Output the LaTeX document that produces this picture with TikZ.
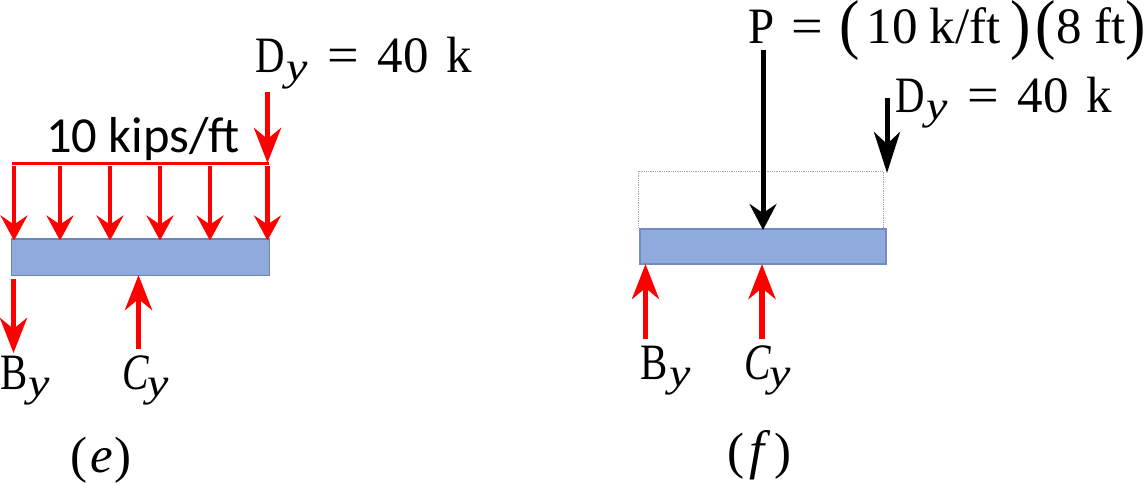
\documentclass[tikz,border=0pt]{standalone}
\usepackage{fontspec}
\usepackage{graphicx}
\setmainfont{Liberation Serif}
\newfontfamily\calib{Carlito}
\usetikzlibrary{arrows.meta}
\definecolor{beam}{HTML}{8FAADC}
\definecolor{beamedge}{HTML}{6C84B5}
% place a piece of text at an exact offset from the label's start
\newcommand{\pc}[2]{\rlap{\kern#1pt #2}}
\newcommand{\ysub}{\raisebox{-7.5pt}{\fontsize{40}{40}\selectfont\itshape\scalebox{1.2}[1]{y}}}
\newcommand{\nD}{\scalebox{.8}[1]{D}}
\newcommand{\nB}{\scalebox{.8}[1]{B}}
\newcommand{\nC}{\scalebox{.78}[1]{\itshape C}}
\newcommand{\nP}{\scalebox{.92}[1]{P}}
\newcommand{\eqsign}{\scalebox{1.1}[1]{=}}
\newcommand{\tallL}{\raisebox{-3.5pt}{\scalebox{1.2}[1.3]{(}}}
\newcommand{\tallR}{\raisebox{-3.5pt}{\scalebox{1.2}[1.3]{)}}}
\newcommand{\dyforty}{\pc{0}{\nD}\pc{31}{\ysub}\pc{72}{\eqsign}\pc{122}{40}\pc{191}{k}}
\tikzset{
  lbl/.style={inner sep=0pt,anchor=base west,font=\fontsize{51}{51}\selectfont},
  beambox/.style={fill=beam,draw=beamedge,line width=1.2pt},
  bigred/.style={draw=red,line width=5.5pt,-{Stealth[length=35pt,width=27pt,inset=11pt]}},
  smallred/.style={draw=red,line width=4.2pt,-{Stealth[length=25pt,width=27pt,inset=9pt]}},
  bigblack/.style={draw=black,line width=5pt,-{Stealth[length=26pt,width=27pt,inset=9pt]}},
  midblack/.style={draw=black,line width=5pt,-{Stealth[length=41pt,width=26pt,inset=12pt]}},
}
\begin{document}
\begin{tikzpicture}[x=1pt,y=-1pt]
\useasboundingbox (0,0) rectangle (1145,483);
% panel e
\node[beambox,inner sep=0pt,minimum width=258pt,minimum height=36.5pt] (beamE) at (140.5,257.3) {};
\coordinate (lL) at (12,163);
\coordinate (lR) at (269,163);
\foreach \i/\x in {a/14,b/60,c/110,d/160,e/210,f/267.5}{
  \coordinate (s\i) at (\x,166);
  \coordinate (t\i) at (\x,240.5);
  \draw[smallred] (s\i) -- (t\i);
}
\coordinate (dyS) at (267.5,92);
\coordinate (dyT) at (267.5,163);
\draw[bigred] (dyS) -- (dyT);
\draw[red,line width=3pt] (lL) -- (lR);
\coordinate (byS) at (13.5,279);
\coordinate (byT) at (13.5,353);
\draw[bigred] (byS) -- (byT);
\coordinate (cyS) at (138.5,349);
\coordinate (cyT) at (138.5,275);
\draw[bigred] (cyS) -- (cyT);
\node[lbl] (dyE) at (255,72.5) {\dyforty};
\node[inner sep=0pt,anchor=base west,font=\calib\fontsize{50.5}{50}\selectfont] (load) at (46,152) {10 kips/ft};
\node[lbl] (bE) at (0,389) {\pc{0}{\nB}\pc{28}{\ysub}};
\node[lbl] (cE) at (122,389) {\pc{0}{\nC}\pc{25}{\ysub}};
\node[lbl] (capE) at (70,472.5) {\pc{0}{(}\pc{20}{\itshape e}\pc{44}{)}};
% panel f
\draw[gray!70,line width=0.8pt,densely dotted] (638.5,171) rectangle (883,228.5);
\node[fill=beam,draw=beamedge!80!beam,line width=2pt,inner sep=0pt,minimum width=246pt,minimum height=35pt] (beamF) at (763,246) {};
\coordinate (pS) at (763,50);
\coordinate (pT) at (763,230);
\draw[bigblack] (pS) -- (pT);
\coordinate (dfS) at (887,98);
\coordinate (dfT) at (887,173);
\draw[midblack] (dfS) -- (dfT);
\coordinate (bfS) at (645.5,339);
\coordinate (bfT) at (645.5,264);
\draw[bigred] (bfS) -- (bfT);
\coordinate (cfS) at (762,339);
\coordinate (cfT) at (762,264);
\draw[bigred] (cfS) -- (cfT);
\node[lbl] (pL) at (748,43) {\pc{0}{\nP}\pc{43}{\eqsign}\pc{91}{\tallL}\pc{118}{10}\pc{181}{k/ft}\pc{262}{\tallR}\pc{287}{\tallL}\pc{308}{8}\pc{346}{ft}\pc{377}{\tallR}};
\node[lbl] (dyF) at (895,112) {\dyforty};
\node[lbl] (bF) at (640,379) {\pc{0}{\nB}\pc{29}{\ysub}};
\node[lbl] (cF) at (744,379) {\pc{0}{\nC}\pc{25}{\ysub}};
\node[lbl] (capF) at (727,468) {\pc{0}{(}\pc{22}{\fontsize{54}{54}\selectfont\itshape f}\pc{47}{)}};
\end{tikzpicture}
\end{document}
